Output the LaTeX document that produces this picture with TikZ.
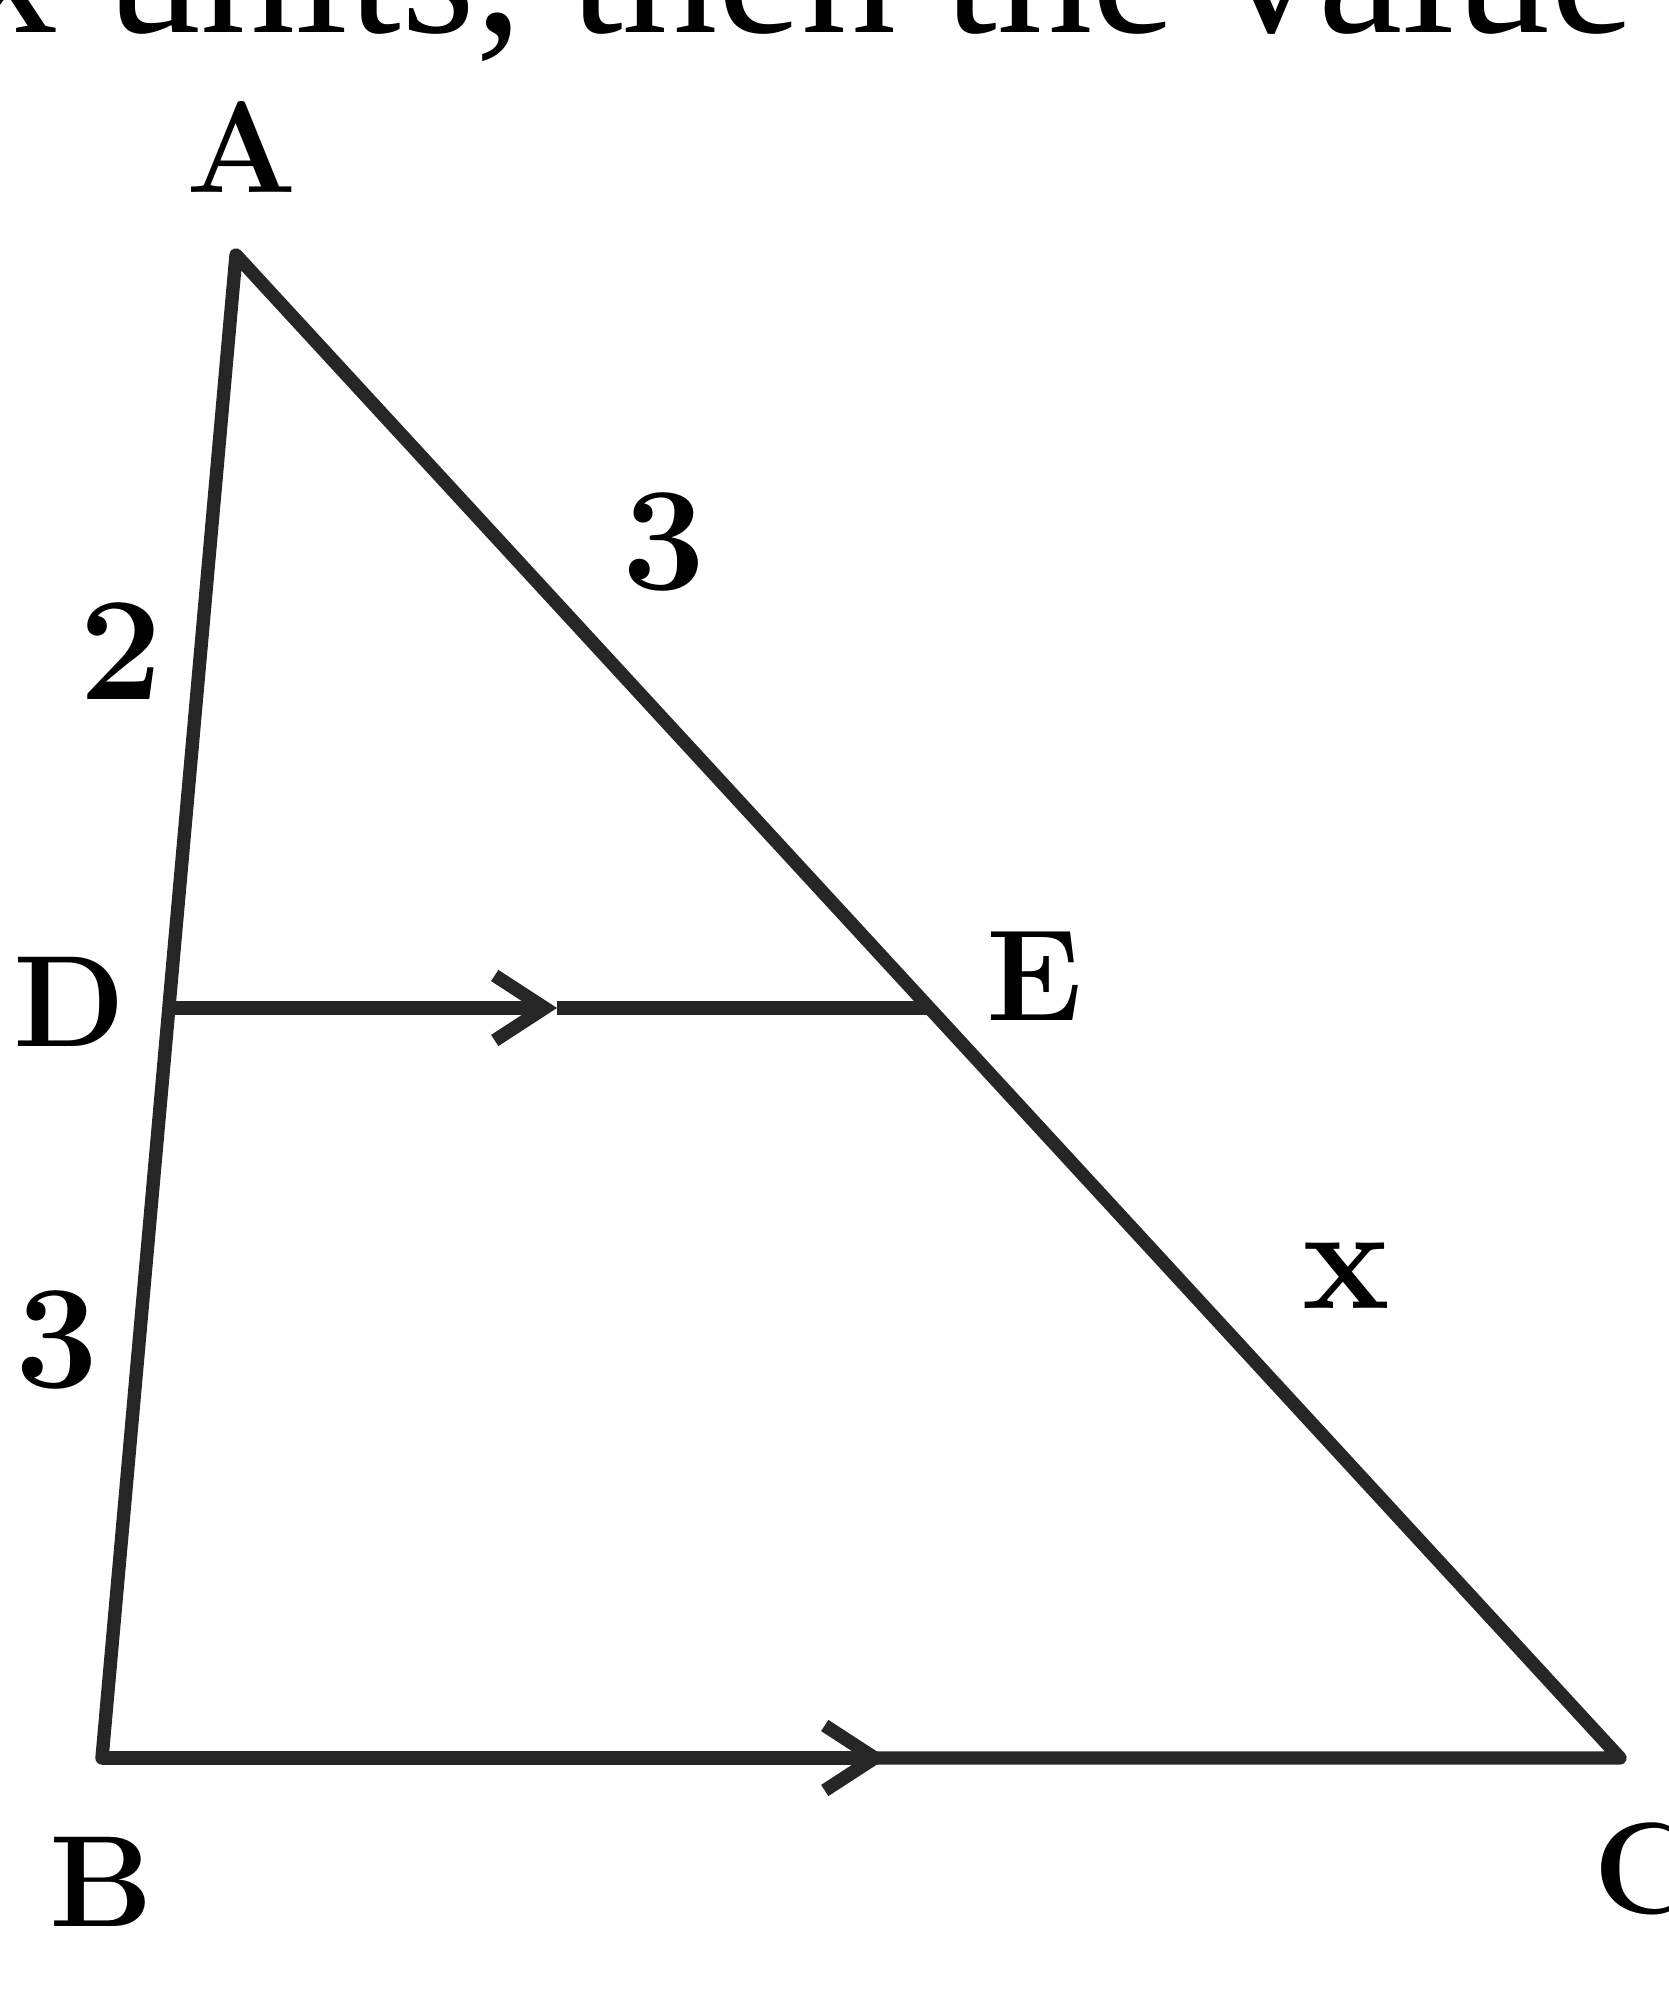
\documentclass[tikz,border=0pt]{standalone}
\usepackage{fontspec}
\newfontfamily\headfont{Liberation Serif}
\usetikzlibrary{arrows.meta}
\begin{document}
\begin{tikzpicture}[>={Straight Barb[length=5mm,width=6.5mm]}, line width=3.8pt, line join=round,
    vertex/.style={font=\bfseries\fontsize{37}{40}\selectfont, inner sep=0pt},
    side/.style={font=\bfseries\fontsize{42}{46}\selectfont, inner sep=0pt}]
\clip (0,0) rectangle (16.69,20);
% cut-off line of the question above the figure
\node[anchor=base west, inner sep=0pt, font=\headfont\fontsize{54}{60}\selectfont] (head) at (-0.43,19.67) {x units, then the value};

\coordinate (A) at (2.36,17.45);
\coordinate (D) at (1.70,9.92);
\coordinate (E) at (9.27,9.92);
\coordinate (B) at (1.02,2.42);
\coordinate (C) at (16.20,2.42);
\coordinate (tipDE) at (5.57,9.92);
\coordinate (tipBC) at (8.87,2.42);

\draw[black!85] (A)--(B)--(C)--cycle;
\draw[black!85, ->] (D)--(tipDE);
\draw[black!85] (tipDE)--(E);
\draw[black!85, ->] (B)--(tipBC);

\node[vertex] (lA) at (2.42,18.53) {A};
\node[vertex] (lD) at (0.70,9.98) {D};
\node[vertex] (lE) at (10.34,10.24) {E};
\node[vertex] (lB) at (1.02,1.18) {B};
\node[vertex] (lC) at (16.46,1.31) {C};

\node[side] (sAD) at (1.21,13.49) {2};
\node[side] (sDB) at (0.57,6.60) {3};
\node[side] (sAE) at (6.64,14.58) {3};
\node[side] (sEC) at (13.46,7.24) {x};

\end{tikzpicture}
\end{document}
